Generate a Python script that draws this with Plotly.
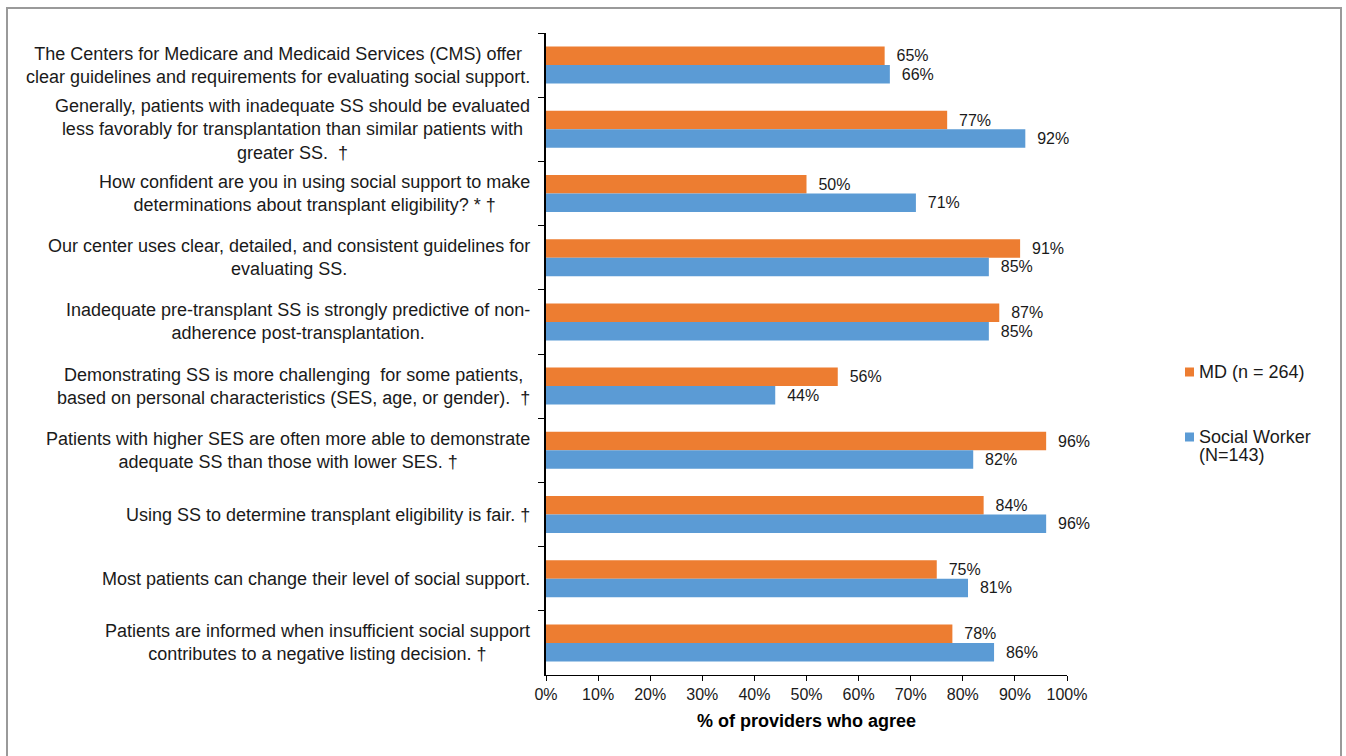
import plotly.graph_objects as go

statements = [
    "The Centers for Medicare and Medicaid Services (CMS) offer<br>clear guidelines and requirements for evaluating social support.",
    "Generally, patients with inadequate SS should be evaluated<br>less favorably for transplantation than similar patients with<br>greater SS.  †",
    "How confident are you in using social support to make<br>determinations about transplant eligibility? * †",
    "Our center uses clear, detailed, and consistent guidelines for<br>evaluating SS.",
    "Inadequate pre-transplant SS is strongly predictive of non-<br>adherence post-transplantation.",
    "Demonstrating SS is more challenging  for some patients,<br>based on personal characteristics (SES, age, or gender).  †",
    "Patients with higher SES are often more able to demonstrate<br>adequate SS than those with lower SES. †",
    "Using SS to determine transplant eligibility is fair. †",
    "Most patients can change their level of social support.",
    "Patients are informed when insufficient social support<br>contributes to a negative listing decision. †",
]
md_pct = [65, 77, 50, 91, 87, 56, 96, 84, 75, 78]
sw_pct = [66, 92, 71, 85, 85, 44, 82, 96, 81, 86]
md_name = "MD (n = 264)"
sw_name = "Social Worker<br>(N=143)"
x_ticks = list(range(0, 101, 10))
x_tick_text = [f"{v}%" for v in x_ticks]

MD_COLOR = "#ED7D31"
SW_COLOR = "#5B9BD5"
FONT = "Liberation Sans, Arial, sans-serif"
TXT = "#1a1a1a"
cats = [f"q{i}" for i in range(len(statements))]

fig = go.Figure()
for vals, name, color in [(md_pct, md_name, MD_COLOR), (sw_pct, sw_name, SW_COLOR)]:
    fig.add_trace(go.Bar(
        y=cats, x=vals, orientation="h", name=name,
        marker=dict(color=color, line=dict(width=0)),
        text=[f"\u00a0\u00a0{v}%" for v in vals], textposition="outside",
        textfont=dict(size=16, color=TXT, family=FONT),
        cliponaxis=False, hoverinfo="skip", showlegend=False,
    ))

# statement labels, centred line by line and right-aligned to the axis
for c, s in zip(cats, statements):
    fig.add_annotation(
        x=0, xref="paper", xanchor="right", xshift=-14,
        y=c, yref="y", yanchor="middle",
        text=s, align="center", showarrow=False,
        font=dict(size=18, color=TXT, family=FONT),
    )

L, R, T, B = 546, 279, 33, 81
W, H = 1346, 756
pw, ph = W - L - R, H - T - B

def px_x(p):
    return (p - L) / pw

def px_y(p):
    return (H - B - p) / ph

# outer frame around the whole chart
fig.add_shape(
    type="rect", xref="paper", yref="paper",
    x0=px_x(7), x1=px_x(1341), y0=px_y(770), y1=px_y(8),
    line=dict(color="#9a9a9a", width=2), fillcolor="rgba(0,0,0,0)",
)

# legend: small colour squares with text beside them
legend_items = [(md_name, MD_COLOR, 372), (sw_name, SW_COLOR, 437)]
for name, color, yc in legend_items:
    fig.add_shape(
        type="rect", xref="paper", yref="paper",
        x0=px_x(1185), x1=px_x(1194), y0=px_y(yc + 4.5), y1=px_y(yc - 4.5),
        line=dict(width=0), fillcolor=color,
    )
    for i, line in enumerate(name.split("<br>")):
        fig.add_annotation(
            x=px_x(1197), xref="paper", xanchor="left",
            y=px_y(yc + i * 18), yref="paper", yanchor="middle",
            text=line, showarrow=False, align="left",
            font=dict(size=18, color=TXT, family=FONT),
        )

fig.update_layout(
    width=W, height=H,
    margin=dict(l=L, r=R, t=T, b=B),
    paper_bgcolor="white", plot_bgcolor="white",
    barmode="group", bargap=0.424, bargroupgap=0,
    font=dict(family=FONT, color=TXT),
    showlegend=False,
    xaxis=dict(
        range=[0, 100], tickmode="array", tickvals=x_ticks, ticktext=x_tick_text,
        showgrid=False, zeroline=False,
        showline=True, linecolor="black", linewidth=1,
        ticks="outside", ticklen=5, tickcolor="black",
        tickfont=dict(size=16, color=TXT, family=FONT),
        title=dict(text="<b>% of providers who agree</b>",
                   font=dict(size=18, color="black", family=FONT), standoff=12),
    ),
    yaxis=dict(
        autorange="reversed", showticklabels=False,
        showgrid=False, zeroline=False,
        showline=True, linecolor="black", linewidth=1.5,
        ticks="outside", ticklen=6, tickcolor="black", tickson="boundaries",
    ),
)

fig.write_html("out.html")
